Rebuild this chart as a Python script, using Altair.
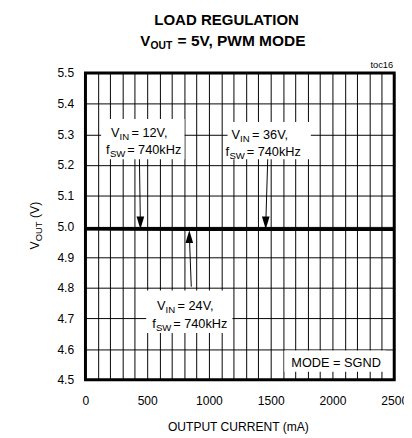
import altair as alt
import pandas as pd

# ---- data ----
current_ma = [0, 500, 1000, 1500, 2000, 2500]
vout_12v = [4.992, 4.992, 4.991, 4.991, 4.991, 4.990]
vout_24v = [4.992, 4.992, 4.991, 4.991, 4.990, 4.990]
vout_36v = [4.992, 4.991, 4.991, 4.991, 4.990, 4.990]
series_names = ["VIN = 12V", "VIN = 24V", "VIN = 36V"]

x_grid = list(range(0, 2501, 100))
y_ticks = [round(4.5 + 0.1 * i, 1) for i in range(11)]

rows = []
for name, vals in zip(series_names, [vout_12v, vout_24v, vout_36v]):
    for c, v in zip(current_ma, vals):
        rows.append({"series": name, "current": c, "vout": v})
df = pd.DataFrame(rows)

FONT = "Liberation Sans, Arial, sans-serif"
W, H = 315, 313

xs = alt.Scale(domain=[0, 2500], nice=False, zero=False)
ys = alt.Scale(domain=[4.5, 5.5], nice=False, zero=False)

AX = alt.Axis(
    values=x_grid, grid=True, ticks=False, domain=False,
    labelExpr="datum.value % 500 === 0 ? format(datum.value, 'd') : ''",
    labelOverlap=False, labelFlush=False, labelBound=False,
    labelPadding=15, labelFontSize=12.3, labelFont=FONT, labelColor="black",
    gridColor="black", gridOpacity=1, gridWidth=1, title=None)
AY = alt.Axis(
    values=y_ticks, format=".1f", grid=True, ticks=False, domain=False,
    labelOverlap=False, labelFlush=False, labelBound=False,
    labelPadding=12, labelFontSize=12.3, labelFont=FONT, labelColor="black",
    gridColor="black", gridOpacity=1, gridWidth=1, title=None)


def X(field):
    return alt.X(field, scale=xs, axis=AX)


def Y(field):
    return alt.Y(field, scale=ys, axis=AY)


# annotation boxes (data coords)
boxes = pd.DataFrame({
    "x1": [127, 1151, 492, 1611],
    "x2": [802, 1825, 1190, 2429],
    "y1": [5.219, 5.219, 4.653, 4.526],
    "y2": [5.350, 5.340, 4.791, 4.596],
})
box = alt.Chart(boxes).mark_rect(color="white").encode(
    x=X("x1:Q"), x2="x2:Q", y=Y("y1:Q"), y2="y2:Q")

line = alt.Chart(df).mark_line(color="black", strokeWidth=3).encode(
    x=X("current:Q"), y=Y("vout:Q"), detail="series:N")

# arrows
shafts = pd.DataFrame({
    "x1": [437, 1476, 857],
    "x2": [445, 1460, 841],
    "y1": [5.219, 5.219, 4.8035],
    "y2": [5.005, 5.005, 4.975],
})
shaft = alt.Chart(shafts).mark_rule(color="black", strokeWidth=1).encode(
    x=X("x1:Q"), x2="x2:Q", y=Y("y1:Q"), y2="y2:Q")

heads = pd.DataFrame({
    "x": [445, 1460, 841],
    "y": [5.0116, 5.0116, 4.9665],
    "shape": ["M-0.6,-1L0.6,-1L0,1Z", "M-0.6,-1L0.6,-1L0,1Z", "M-0.6,1L0.6,1L0,-1Z"],
})
head = alt.Chart(heads).mark_point(filled=True, color="black", opacity=1, size=170).encode(
    x=X("x:Q"), y=Y("y:Q"), shape=alt.Shape("shape:N", scale=None))

# annotation text pieces: text, x (mA), y (V), dx (px), dy (px), size
pieces = [
    # VIN = 12V
    ("V", 206, 5.292, 0, 0, 13), ("IN", 206, 5.292, 8.8, 3, 9.8), ("= 12V,", 206, 5.292, 21, 0, 13),
    ("f", 167, 5.235, 0, 0, 13), ("SW", 167, 5.235, 3.9, 3, 9.8), ("= 740kHz", 167, 5.235, 21.5, 0, 13),
    # VIN = 36V
    ("V", 1182, 5.286, 0, 0, 13), ("IN", 1182, 5.286, 8.8, 3, 9.8), ("= 36V,", 1182, 5.286, 21, 0, 13),
    ("f", 1135, 5.228, 0, 0, 13), ("SW", 1135, 5.228, 3.9, 3, 9.8), ("= 740kHz", 1135, 5.228, 21.5, 0, 13),
    # VIN = 24V
    ("V", 579, 4.727, 0, 0, 13), ("IN", 579, 4.727, 8.8, 3, 9.8), ("= 24V,", 579, 4.727, 21, 0, 13),
    ("f", 540, 4.669, 0, 0, 13), ("SW", 540, 4.669, 3.9, 3, 9.8), ("= 740kHz", 540, 4.669, 21.5, 0, 13),
    # MODE
    ("MODE = SGND", 1667, 4.5415, 0, 0, 13),
]

texts = []
for t, x, y, dx, dy, s in pieces:
    texts.append(alt.Chart(pd.DataFrame({"x": [x], "y": [y], "t": [t]})).mark_text(
        align="left", baseline="alphabetic", font=FONT, fontSize=s, color="black",
        dx=dx, dy=dy).encode(x=X("x:Q"), y=Y("y:Q"), text="t:N"))


# titles / labels (pixel positions relative to plot)
def ptext(t, x, y, size, weight="normal", align="left", angle=0):
    kw = dict(align=align, baseline="alphabetic", font=FONT, fontSize=size,
              fontWeight=weight, color="black")
    if angle:
        kw["angle"] = angle
    return alt.Chart(pd.DataFrame({"t": [t]})).mark_text(**kw).encode(
        x=alt.value(x), y=alt.value(y), text="t:N")


labels = [
    ptext("LOAD REGULATION", 144, -48.5, 15.3, "bold", "center"),
    ptext("V", 56, -28, 15.3, "bold"),
    ptext("OUT", 66.5, -24.5, 10.5, "bold"),
    ptext("= 5V, PWM MODE", 94, -28, 15.8, "bold"),
    ptext("toc16", 314, -5, 9.5, align="right"),
    ptext("OUTPUT CURRENT (mA)", 156, 365, 12.3, align="center"),
    ptext("V", -47, 180, 12.5, angle=270),
    ptext("OUT", -44, 171.5, 9.5, angle=270),
    ptext("(V)", -47, 148, 12.5, angle=270),
]

border = alt.Chart(pd.DataFrame({"k": [0]})).mark_rect(
    fill="transparent", stroke="black", strokeWidth=3).encode(
    x=alt.value(0), x2=alt.value(W), y=alt.value(0), y2=alt.value(H))

chart = alt.layer(box, line, shaft, head, *texts, *labels, border).properties(
    width=W, height=H,
    autosize=alt.AutoSizeParams(type="none"),
    padding={"left": 79, "top": 62, "right": 10, "bottom": 55},
).configure_view(stroke=None).configure(background="white")

chart.save("out.html", embed_options={"renderer": "svg", "actions": False})
